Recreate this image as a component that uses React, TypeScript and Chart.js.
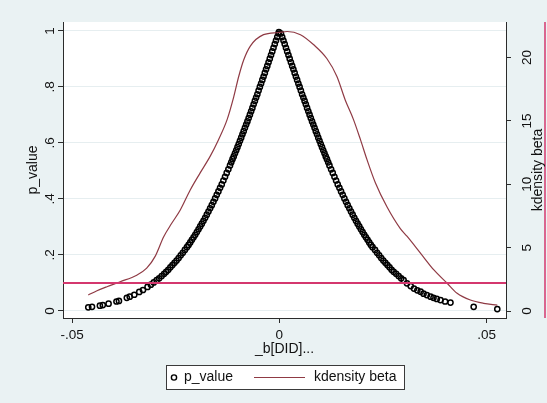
import React, { useEffect, useRef } from "react";
import { Chart, registerables } from "chart.js";

Chart.register(...registerables);

// ---------- data ----------
const pBeta = [
  -0.0001, -0.0002, -0.0005, -0.0008, -0.0011, -0.0014, -0.0017, -0.0020, -0.0023, -0.0026, -0.0029,
  -0.0032, -0.0035, -0.0038, -0.0041, -0.0044, -0.0047, -0.0050, -0.0053, -0.0056, -0.0059,
  -0.0062, -0.0065, -0.0068, -0.0071, -0.0074, -0.0077, -0.0080, -0.0083, -0.0086, -0.0089,
  -0.0092, -0.0095, -0.0098, -0.0101, -0.0104, -0.0107, -0.0110, -0.0113, -0.0116, -0.0119,
  -0.0123, -0.0127, -0.0131, -0.0135, -0.0139, -0.0143, -0.0147, -0.0151, -0.0155, -0.0159,
  -0.0163, -0.0167, -0.0171, -0.0175, -0.0179, -0.0183, -0.0187, -0.0191, -0.0195, -0.0199,
  -0.0203, -0.0207, -0.0211, -0.0215, -0.0219, -0.0223, -0.0228, -0.0233, -0.0238, -0.0243,
  -0.0248, -0.0253, -0.0258, -0.0263, -0.0268, -0.0273, -0.0278, -0.0284, -0.0290, -0.0296,
  -0.0303, -0.0310, -0.0318, -0.0329, -0.0338, -0.0350, -0.0361, -0.0368, -0.0387, -0.0393,
  -0.0412, -0.0426, -0.0433, -0.0452, -0.0461,
  0.0004, 0.0007, 0.0010, 0.0013, 0.0016, 0.0019, 0.0022, 0.0025, 0.0028, 0.0031,
  0.0034, 0.0037, 0.0040, 0.0043, 0.0046, 0.0049, 0.0052, 0.0055, 0.0058, 0.0061,
  0.0064, 0.0067, 0.0070, 0.0073, 0.0076, 0.0079, 0.0082, 0.0085, 0.0088, 0.0091,
  0.0094, 0.0097, 0.0100, 0.0103, 0.0106, 0.0109, 0.0112, 0.0115, 0.0118, 0.0121,
  0.0125, 0.0129, 0.0133, 0.0137, 0.0141, 0.0145, 0.0149, 0.0153, 0.0157, 0.0161,
  0.0165, 0.0169, 0.0173, 0.0177, 0.0181, 0.0185, 0.0189, 0.0193, 0.0197, 0.0201,
  0.0205, 0.0209, 0.0213, 0.0217, 0.0221, 0.0225, 0.0231, 0.0236, 0.0241, 0.0246,
  0.0251, 0.0256, 0.0261, 0.0266, 0.0271, 0.0276, 0.0282, 0.0288, 0.0294, 0.0300,
  0.0308, 0.0317, 0.0325, 0.0333, 0.0341, 0.0348, 0.0356, 0.0365, 0.0372, 0.0380,
  0.0389, 0.0400, 0.0413, 0.0469, 0.0526,
];

const pValue = [
  0.996, 0.991, 0.978, 0.966, 0.953, 0.940, 0.927, 0.914, 0.901, 0.888, 0.875,
  0.863, 0.850, 0.837, 0.825, 0.812, 0.800, 0.787, 0.774, 0.762, 0.750,
  0.738, 0.725, 0.713, 0.701, 0.689, 0.677, 0.666, 0.654, 0.642, 0.631,
  0.619, 0.608, 0.596, 0.585, 0.574, 0.563, 0.552, 0.542, 0.531, 0.520,
  0.506, 0.493, 0.479, 0.466, 0.452, 0.440, 0.427, 0.415, 0.402, 0.390,
  0.378, 0.367, 0.355, 0.344, 0.333, 0.322, 0.312, 0.302, 0.292, 0.282,
  0.272, 0.263, 0.254, 0.245, 0.236, 0.228, 0.218, 0.208, 0.199, 0.189,
  0.180, 0.172, 0.164, 0.156, 0.147, 0.140, 0.133, 0.125, 0.117, 0.110,
  0.102, 0.094, 0.086, 0.075, 0.068, 0.058, 0.051, 0.047, 0.036, 0.034,
  0.026, 0.021, 0.019, 0.015, 0.013,
  0.991, 0.978, 0.966, 0.953, 0.940, 0.927, 0.914, 0.901, 0.888, 0.875,
  0.863, 0.850, 0.837, 0.825, 0.812, 0.800, 0.787, 0.774, 0.762, 0.750,
  0.738, 0.725, 0.713, 0.701, 0.689, 0.677, 0.666, 0.654, 0.642, 0.631,
  0.619, 0.608, 0.596, 0.585, 0.574, 0.563, 0.552, 0.542, 0.531, 0.520,
  0.506, 0.493, 0.479, 0.466, 0.452, 0.440, 0.427, 0.415, 0.402, 0.390,
  0.378, 0.367, 0.355, 0.344, 0.333, 0.322, 0.312, 0.302, 0.292, 0.282,
  0.272, 0.263, 0.254, 0.245, 0.236, 0.228, 0.218, 0.208, 0.199, 0.189,
  0.180, 0.172, 0.164, 0.156, 0.147, 0.140, 0.133, 0.125, 0.117, 0.110,
  0.099, 0.089, 0.080, 0.074, 0.069, 0.062, 0.057, 0.051, 0.047, 0.043,
  0.039, 0.034, 0.030, 0.015, 0.007,
];

const kdBeta = [
  -0.0461, -0.0440, -0.0416, -0.0384, -0.0344, -0.0320, -0.0300, -0.0279, -0.0260, -0.0239,
  -0.0215, -0.0191, -0.0167, -0.0147, -0.0126, -0.0110, -0.0098, -0.0086, -0.0070, -0.0038,
  -0.0002, 0.0019, 0.0051, 0.0083, 0.0115, 0.0139, 0.0159, 0.0179, 0.0196, 0.0212,
  0.0232, 0.0260, 0.0292, 0.0308, 0.0341, 0.0373, 0.0405, 0.0429, 0.0461, 0.0493, 0.0526,
];

const kdDensity = [
  1.26, 1.6, 1.92, 2.31, 2.83, 3.38, 4.29, 5.86, 6.9, 7.97,
  9.55, 10.9, 12.2, 13.5, 15.1, 16.9, 18.5, 19.8, 20.9, 21.8,
  21.97, 22.05, 21.8, 21.0, 19.9, 18.5, 16.65, 15.1, 13.5, 11.9,
  10.1, 8.2, 6.5, 5.9, 4.55, 3.24, 2.19, 1.4, 0.87, 0.61, 0.47,
];

const xTickValues = [-0.05, 0, 0.05];
const xTickLabels = ["-.05", "0", ".05"];
const yTickValues = [0, 0.2, 0.4, 0.6, 0.8, 1];
const yTickLabels = ["0", ".2", ".4", ".6", ".8", "1"];
const y2TickValues = [0, 5, 10, 15, 20];
const y2TickLabels = ["0", "5", "10", "15", "20"];
const pThreshold = 0.1;
const seriesNames = ["p_value", "kdensity beta"];
const xTitle = "_b[DID]...";
const yTitle = "p_value";
const y2Title = "kdensity beta";

// ---------- styles ----------
const FONT = '"Liberation Sans", Arial, Helvetica, sans-serif';
const BG = "#EAF2F3";
const GRID = "#E6EEF0";
const REF = "#D4376E";
const KD = "#8F3A44";
const AX = "#2b2b2b";
const TXT = "#111111";

export default function App() {
  const ref = useRef<HTMLCanvasElement | null>(null);

  useEffect(() => {
    document.body.style.margin = "0";
    const canvas = ref.current;
    if (!canvas) return;

    const pointsData = pBeta.map((b, i) => ({ x: b, y: pValue[i] }));
    const kdData = kdBeta.map((b, i) => ({ x: b, y: kdDensity[i] }));

    const decor = {
      id: "decor",
      beforeDraw(chart: any) {
        const { ctx, chartArea: a, width, height } = chart;
        ctx.save();
        ctx.fillStyle = BG;
        ctx.fillRect(0, 0, width, height);
        ctx.fillStyle = "#ffffff";
        ctx.fillRect(a.left, a.top, a.right - a.left, a.bottom - a.top);
        ctx.restore();
      },
      afterDatasetsDraw(chart: any) {
        const { ctx, chartArea: a, scales } = chart;
        const y = scales.y.getPixelForValue(pThreshold);
        ctx.save();
        ctx.strokeStyle = REF;
        ctx.lineWidth = 1.8;
        ctx.beginPath();
        ctx.moveTo(a.left, y);
        ctx.lineTo(a.right, y);
        ctx.stroke();
        ctx.restore();
      },
      afterDraw(chart: any) {
        const { ctx, chartArea: a, width } = chart;
        ctx.save();
        // right-edge red rule
        ctx.strokeStyle = REF;
        ctx.lineWidth = 1.5;
        ctx.beginPath();
        ctx.moveTo(width - 2, a.top);
        ctx.lineTo(width - 2, a.bottom);
        ctx.stroke();

        // right axis title (reads bottom to top)
        ctx.fillStyle = TXT;
        ctx.font = `14px ${FONT}`;
        ctx.textAlign = "center";
        ctx.textBaseline = "middle";
        ctx.save();
        ctx.translate(a.right + 32.5, (a.top + a.bottom) / 2);
        ctx.rotate(-Math.PI / 2);
        ctx.fillText(y2Title, 0, 0);
        ctx.restore();

        // legend
        const cx = (a.left + a.right) / 2;
        const bw = 238;
        const bh = 24;
        const x0 = Math.round(cx - bw / 2);
        const y0 = Math.round(a.bottom + 47);
        const ym = y0 + 12.5;
        ctx.fillStyle = "#ffffff";
        ctx.fillRect(x0, y0, bw, bh);
        ctx.strokeStyle = "#3a3a3a";
        ctx.lineWidth = 1;
        ctx.strokeRect(x0 + 0.5, y0 + 0.5, bw, bh);

        ctx.strokeStyle = "#000";
        ctx.lineWidth = 1.4;
        ctx.beginPath();
        ctx.arc(x0 + 8, ym, 2.6, 0, Math.PI * 2);
        ctx.stroke();

        ctx.fillStyle = TXT;
        ctx.textAlign = "left";
        ctx.textBaseline = "middle";
        ctx.fillText(seriesNames[0], x0 + 18, ym);

        ctx.strokeStyle = KD;
        ctx.lineWidth = 1.2;
        ctx.beginPath();
        ctx.moveTo(x0 + 88, ym);
        ctx.lineTo(x0 + 139, ym);
        ctx.stroke();

        ctx.fillText(seriesNames[1], x0 + 148, ym);
        ctx.restore();
      },
    };

    const tickFont = { size: 13.5, family: FONT };
    const titleFont = { size: 14, family: FONT };

    const chart = new Chart(canvas, {
      type: "scatter",
      data: {
        datasets: [
          {
            type: "line",
            label: seriesNames[1],
            data: kdData,
            yAxisID: "y2",
            borderColor: KD,
            borderWidth: 1.2,
            pointRadius: 0,
            fill: false,
            cubicInterpolationMode: "monotone",
            order: 0,
          } as any,
          {
            type: "scatter",
            label: seriesNames[0],
            data: pointsData,
            yAxisID: "y",
            pointRadius: 2.6,
            pointBorderWidth: 1.5,
            borderColor: "#000000",
            backgroundColor: "rgba(0,0,0,0)",
            pointStyle: "circle",
            order: 1,
          } as any,
        ],
      },
      options: {
        responsive: false,
        animation: false,
        events: [],
        layout: { padding: { top: 22, bottom: 45, left: 0, right: 0 } },
        plugins: { legend: { display: false }, tooltip: { enabled: false } },
        scales: {
          x: {
            type: "linear",
            position: "bottom",
            min: -0.0522,
            max: 0.0547,
            afterBuildTicks: (s: any) => {
              s.ticks = xTickValues.map((v) => ({ value: v }));
            },
            afterFit: (s: any) => {
              s.height = 40;
            },
            ticks: {
              callback: (_v: any, i: number) => xTickLabels[i],
              autoSkip: false,
              minRotation: 0,
              maxRotation: 0,
              padding: 4,
              color: TXT,
              font: tickFont,
            },
            grid: { drawOnChartArea: false, drawTicks: true, tickLength: 5, tickColor: AX, tickWidth: 1 },
            border: { display: true, color: AX, width: 1 },
            title: { display: true, text: xTitle, color: TXT, font: titleFont, padding: { top: 0, bottom: 0 } },
          },
          y: {
            type: "linear",
            position: "left",
            min: -0.025,
            max: 1.032,
            afterBuildTicks: (s: any) => {
              s.ticks = yTickValues.map((v) => ({ value: v }));
            },
            afterFit: (s: any) => {
              s.width = 63;
            },
            ticks: {
              callback: (_v: any, i: number) => yTickLabels[i],
              autoSkip: false,
              minRotation: 90,
              maxRotation: 90,
              crossAlign: "center",
              padding: 2.4,
              color: TXT,
              font: tickFont,
            },
            grid: { color: GRID, lineWidth: 1, drawTicks: true, tickLength: 5, tickColor: AX, tickWidth: 1 },
            border: { display: true, color: AX, width: 1 },
            title: { display: true, text: yTitle, color: TXT, font: titleFont, padding: { top: 25, bottom: 0 } },
          },
          y2: {
            type: "linear",
            position: "right",
            min: -0.55,
            max: 22.8,
            afterBuildTicks: (s: any) => {
              s.ticks = y2TickValues.map((v) => ({ value: v }));
            },
            afterFit: (s: any) => {
              s.width = 41;
            },
            ticks: {
              callback: (_v: any, i: number) => y2TickLabels[i],
              autoSkip: false,
              minRotation: 90,
              maxRotation: 90,
              crossAlign: "center",
              padding: 8.5,
              color: TXT,
              font: tickFont,
            },
            grid: { drawOnChartArea: false, drawTicks: true, tickLength: 5, tickColor: AX, tickWidth: 1 },
            border: { display: true, color: AX, width: 1 },
            title: { display: false },
          },
        },
      } as any,
      plugins: [decor],
    });

    return () => {
      chart.destroy();
    };
  }, []);

  return (
    <div style={{ width: 547, height: 403 }}>
      <canvas ref={ref} width={547} height={403} style={{ display: "block" }} />
    </div>
  );
}
